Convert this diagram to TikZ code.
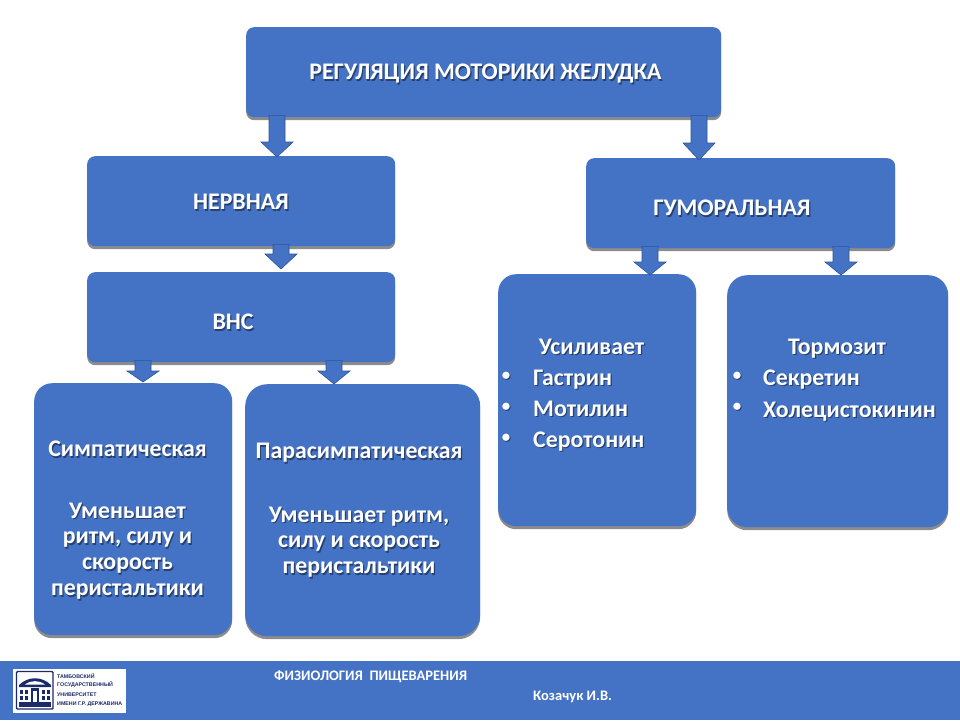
\documentclass[tikz,border=0pt]{standalone}
\usepackage{fontspec}
\setmainfont{Carlito}
\newfontfamily\logofont{Liberation Sans}
\usetikzlibrary{shadows,calc}
\definecolor{boxblue}{HTML}{4472C4}
\definecolor{edgeblue}{HTML}{2F5597}
\definecolor{navy}{HTML}{1B2A6B}
\definecolor{txtshadow}{HTML}{27406F}
\tikzset{
  x=1pt,y=-1pt,
  box/.style={fill=boxblue,draw=none,rounded corners=#1,inner sep=0pt,
    drop shadow={shadow xshift=0pt,shadow yshift=-3pt,opacity=.45,fill=black}},
  box/.default=8pt,
  arrowblock/.style={fill=boxblue,draw=edgeblue,line width=.6pt,line join=miter},
  lbl/.style={text=white,font=\bfseries\fontsize{23.8}{25.8}\selectfont,align=center,inner sep=0pt},
  lblshadow/.style={lbl,text=txtshadow},
  bull/.style={lbl,font=\bfseries\fontsize{17}{20}\selectfont},
  bullshadow/.style={bull,text=txtshadow},
  foot/.style={text=white,font=\bfseries\fontsize{14.5}{16}\selectfont,inner sep=0pt,anchor=west},
  logotxt/.style={text=navy,font=\logofont\bfseries\fontsize{5.3}{7}\selectfont,inner sep=0pt,anchor=west},
}
% box: name, left, top, right, bottom, radius
\newcommand{\blk}[6]{\node[box=#6,anchor=north west,minimum width={(#4)*1pt-(#2)*1pt},minimum height={(#5)*1pt-(#3)*1pt}] (#1) at (#2,#3) {};}
% text with shadow: name, options, x, y, text
\newcommand{\txt}[5]{\node[lblshadow,#2] at ($(#3,#4)+(1.2,1.6)$) {#5};\node[lbl,#2] (#1) at (#3,#4) {#5};}
\newcommand{\bul}[3]{\node[bullshadow,anchor=center] at ($(#2,#3)+(1,1.4)$) {•};\node[bull,anchor=center] (#1) at (#2,#3) {•};}
% block arrow: from, to, centre x, head base above target top, tip above target top
\newcommand{\barrow}[5]{%
  \coordinate (ax) at (#3,0);
  \draw[arrowblock] let \p1=(#1.south -| ax), \p2=(#2.north -| ax) in
    (\x1-8pt,\y1+2pt) -- (\x1+8pt,\y1+2pt) -- (\x1+8pt,\y2+#4pt) -- (\x1+16pt,\y2+#4pt)
    -- (\x1,\y2+#5pt) -- (\x1-16pt,\y2+#4pt) -- (\x1-8pt,\y2+#4pt) -- cycle;}
\begin{document}
\begin{tikzpicture}
\useasboundingbox (0,0) rectangle (960,720);
\fill[white] (0,0) rectangle (960,720);
% footer
\fill[boxblue] (0,661) rectangle (960,720);
\node[foot] (ftitle) at (274,677) {ФИЗИОЛОГИЯ\ \ ПИЩЕВАРЕНИЯ};
\node[foot] (fauthor) at (533,697) {Козачук И.В.};
% logo
\fill[white] (13,669) rectangle (126,713);
\draw[navy,line width=1.4pt,rounded corners=1pt] (16.5,671.5) rectangle (53,709);
\fill[navy] (19,685) .. controls (28,676) and (42,676) .. (51,685) -- (51,687) -- (19,687) -- cycle;
\fill[white] (25,684.5) .. controls (31,680) and (39,680) .. (45,684.5) -- cycle;
\fill[navy] (31,688) rectangle (39,702);
\fill[white] (33,691) rectangle (37,702);
\foreach \xx in {20,25,42,47}{
  \fill[navy] (\xx,690) rectangle ++(3.4,4);
  \fill[navy] (\xx,696) rectangle ++(3.4,4);
}
\fill[navy] (19,702) rectangle (51,706.5);
\node[logotxt] (l1) at (57,676.5) {ТАМБОВСКИЙ};
\node[logotxt] (l2) at (57,685) {ГОСУДАРСТВЕННЫЙ};
\node[logotxt] (l3) at (57,695) {УНИВЕРСИТЕТ};
\node[logotxt] (l4) at (57,704) {ИМЕНИ Г.Р. ДЕРЖАВИНА};
% boxes
\blk{main}{246}{27}{721}{117}{8pt}
\blk{nerv}{87}{156}{395}{246}{8pt}
\blk{gum}{586}{158}{895}{248}{8pt}
\blk{vns}{87}{272}{395}{362}{8pt}
\blk{simp}{34}{383}{232}{635}{18pt}
\blk{para}{245}{384}{480}{636}{22pt}
\blk{usil}{498}{274}{696}{526}{18pt}
\blk{torm}{727}{275}{948}{527}{20pt}
% arrows
\barrow{main}{nerv}{277}{14}{-1}
\barrow{main}{gum}{699}{15}{-2}
\barrow{nerv}{vns}{281}{18}{3}
\barrow{vns}{simp}{143}{12}{1}
\barrow{vns}{para}{334}{13}{0}
\barrow{gum}{usil}{650}{12}{-1}
\barrow{gum}{torm}{841}{13}{0}
% labels
\txt{t1}{}{485.5}{74}{РЕГУЛЯЦИЯ МОТОРИКИ ЖЕЛУДКА}
\txt{t2}{}{241}{202}{НЕРВНАЯ}
\txt{t3}{}{732}{208}{ГУМОРАЛЬНАЯ}
\txt{t4}{}{233}{322}{ВНС}
\txt{t5}{}{127.5}{449}{Симпатическая}
\txt{t6}{}{127.5}{551}{Уменьшает\\ритм, силу и\\скорость\\перистальтики}
\txt{t7}{}{359}{453}{Парасимпатическая}
\txt{t8}{}{359}{542}{Уменьшает ритм,\\силу и скорость\\перистальтики}
\txt{t9}{anchor=base}{591.5}{354}{Усиливает}
\bul{b1}{506}{376}
\bul{b2}{506}{407}
\bul{b3}{506}{438}
\txt{t10}{anchor=base west}{533}{385}{Гастрин}
\txt{t11}{anchor=base west}{533}{416}{Мотилин}
\txt{t12}{anchor=base west}{533}{447}{Серотонин}
\txt{t13}{anchor=base}{837}{354}{Тормозит}
\bul{b4}{737}{376}
\bul{b5}{737}{407}
\txt{t14}{anchor=base west}{763}{385}{Секретин}
\txt{t15}{anchor=base west}{763}{417}{Холецистокинин}
\end{tikzpicture}
\end{document}
